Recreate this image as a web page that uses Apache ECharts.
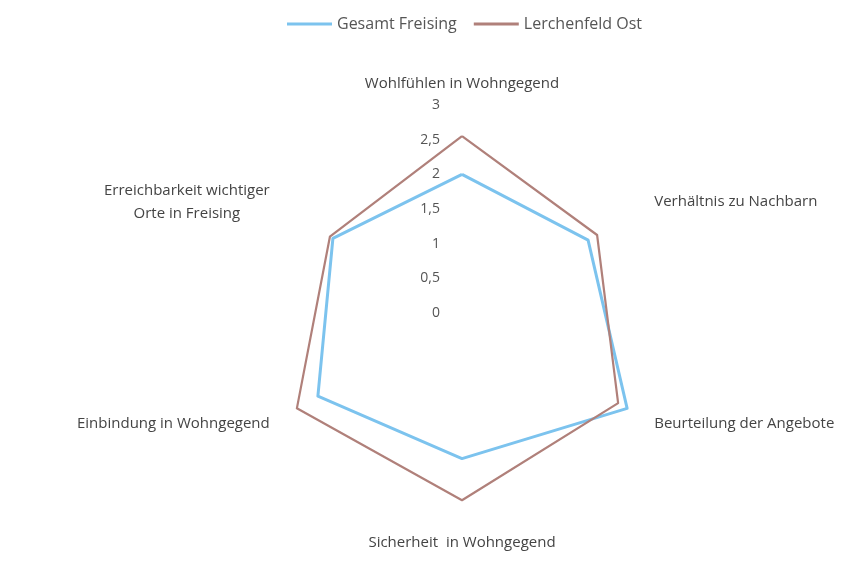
<!DOCTYPE html>
<html lang="de">
<head>
    <meta charset="UTF-8">
    <title>Radar Freising</title>
    <script src="https://cdn.jsdelivr.net/npm/echarts@6/dist/echarts.min.js"></script>
    <style>
        body { margin: 0; background: #fff; }
        #main { width: 841px; height: 582px; }
    </style>
</head>
<body>
<div id="main"></div>
<script>
    // Achsen im Uhrzeigersinn ab oben (wie im Original)
    var categories = [
        'Wohlfühlen in Wohngegend',
        'Verhältnis zu Nachbarn',
        'Beurteilung der Angebote',
        'Sicherheit  in Wohngegend',
        'Einbindung in Wohngegend',
        'Erreichbarkeit wichtiger\nOrte in Freising'
    ];
    var gesamt = [2.0, 2.1, 2.75, 2.1, 2.4, 2.15];
    var lerchenfeld = [2.55, 2.25, 2.6, 2.7, 2.75, 2.2];
    var tickValues = [0, 0.5, 1, 1.5, 2, 2.5, 3];

    // echarts legt die Achsen gegen den Uhrzeigersinn an -> Reihenfolge drehen
    function ccw(arr) {
        return [arr[0]].concat(arr.slice(1).reverse());
    }

    var cx = 462, cy = 313, r = 208;
    var font = '"Open Sans", Lato, sans-serif';

    var myChart = echarts.init(document.getElementById('main'));

    var option = {
        backgroundColor: '#fff',
        legend: {
            top: 11,
            left: 282,
            icon: 'rect',
            itemWidth: 45,
            itemHeight: 3,
            itemGap: 17,
            textStyle: { color: '#555', fontSize: 16, fontFamily: font },
            data: ['Gesamt Freising', 'Lerchenfeld Ost']
        },
        radar: {
            center: [cx, cy],
            radius: r,
            startAngle: 90,
            shape: 'polygon',
            splitNumber: 6,
            nameGap: 14,
            axisName: {
                color: '#444',
                fontSize: 15,
                fontFamily: font,
                formatter: function (name) {
                    if (name.indexOf('\n') < 0) return name;
                    return name.split('\n').map(function (s) { return '{c|' + s + '}'; }).join('\n');
                },
                rich: {
                    c: { align: 'center', color: '#444', fontSize: 15, fontFamily: font, lineHeight: 23 }
                }
            },
            axisLine: { show: false },
            axisTick: { show: false },
            splitLine: { show: false },
            splitArea: { show: false },
            indicator: ccw(categories).map(function (n) {
                return { name: n, min: 0, max: 3 };
            })
        },
        // Skalenbeschriftung an der oberen Achse
        grid: {
            left: cx - 18,
            width: 1,
            top: cy - r,
            height: r
        },
        xAxis: { type: 'value', show: false },
        yAxis: {
            type: 'value',
            min: 0,
            max: 3,
            interval: 0.5,
            axisLine: { show: false },
            axisTick: { show: false },
            splitLine: { show: false },
            axisLabel: {
                color: '#555',
                fontSize: 14,
                fontFamily: font,
                margin: 4,
                formatter: function (v) { return String(v).replace('.', ','); }
            }
        },
        series: [{
            type: 'radar',
            symbol: 'none',
            data: [{
                name: 'Gesamt Freising',
                value: ccw(gesamt),
                lineStyle: { color: '#7cc3ee', width: 3 },
                itemStyle: { color: '#7cc3ee' }
            }, {
                name: 'Lerchenfeld Ost',
                value: ccw(lerchenfeld),
                lineStyle: { color: '#b0807a', width: 2.2 },
                itemStyle: { color: '#b0807a' }
            }]
        }]
    };

    myChart.setOption(option);
</script>
</body>
</html>
